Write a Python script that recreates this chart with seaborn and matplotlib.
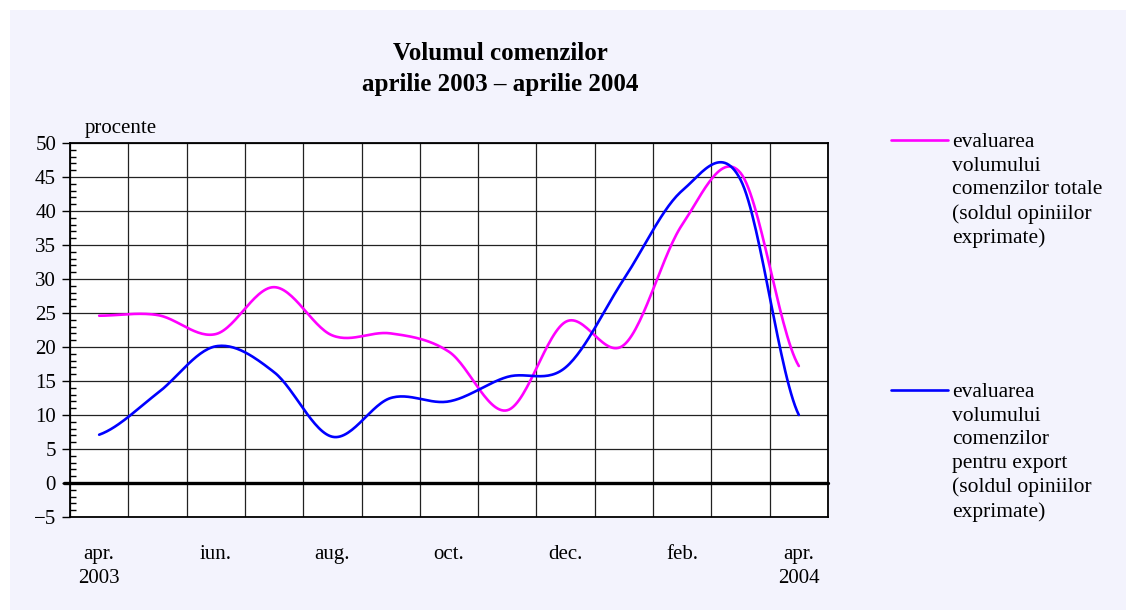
import numpy as np
import pandas as pd
import matplotlib
matplotlib.use("Agg")
import matplotlib.pyplot as plt
from matplotlib.lines import Line2D
from matplotlib.patches import Rectangle
from matplotlib.ticker import MultipleLocator
import seaborn as sns

# monthly data, apr. 2003 - apr. 2004 (sold, procente)
months = ["apr.\n2003", "mai", "iun.", "iul.", "aug.", "sep.", "oct.",
          "nov.", "dec.", "ian.", "feb.", "mar.", "apr.\n2004"]
totale = [24.6, 24.7, 21.9, 28.8, 21.7, 22.0, 19.3, 10.7, 23.7, 20.3, 38.0, 45.6, 17.2]
export = [7.1, 13.2, 20.1, 16.3, 6.8, 12.5, 12.0, 15.6, 17.0, 30.0, 43.0, 44.6, 10.0]

name_tot = "evaluarea\nvolumului\ncomenzilor totale\n(soldul opiniilor\nexprimate)"
name_exp = "evaluarea\nvolumului\ncomenzilor\npentru export\n(soldul opiniilor\nexprimate)"


# excel-like smoothed line (bezier through the points)
def smooth(vals, n=30):
    p = np.asarray(vals, dtype=float)
    xs, ys = [], []
    for i in range(len(p) - 1):
        p0 = p[i - 1] if i > 0 else p[i]
        p1, p2 = p[i], p[i + 1]
        p3 = p[i + 2] if i + 2 < len(p) else p[i + 1]
        c1 = p1 + (p2 - p0) / 6.0
        c2 = p2 - (p3 - p1) / 6.0
        t = np.linspace(0, 1, n, endpoint=False)
        ys.extend((1 - t) ** 3 * p1 + 3 * (1 - t) ** 2 * t * c1 + 3 * (1 - t) * t ** 2 * c2 + t ** 3 * p2)
        xs.extend(i + t)
    xs.append(len(p) - 1)
    ys.append(p[-1])
    return np.array(xs), np.array(ys)


frames = []
for vals, lab in [(totale, "totale"), (export, "export")]:
    sx, sy = smooth(vals)
    frames.append(pd.DataFrame({"x": sx, "y": sy, "serie": lab}))
df = pd.concat(frames, ignore_index=True)

sns.set_theme(style="white")
plt.rcParams["font.family"] = ["Liberation Serif", "DejaVu Serif"]
plt.rcParams["text.color"] = "black"
plt.rcParams["xtick.color"] = "black"
plt.rcParams["ytick.color"] = "black"

fig = plt.figure(figsize=(11.26, 6.10), dpi=100)
fig.patch.set_facecolor("white")
fig.add_artist(Rectangle((10 / 1126, 0), 1, 1 - 10 / 610, transform=fig.transFigure,
                         facecolor="#F3F3FD", edgecolor="none", zorder=-10))

ax = fig.add_axes([70 / 1126, 93 / 610, 758 / 1126, 374 / 610])
ax.set_facecolor("white")

ax.set_xlim(-0.5, 12.5)
ax.set_ylim(-5, 50)

# grid
for k in range(14):
    ax.axvline(k - 0.5, color="#222222", lw=0.9, zorder=1)
for v in range(-5, 51, 5):
    ax.axhline(v, color="#222222", lw=0.9, zorder=1)
ax.axhline(0, color="black", lw=2.4, zorder=2, xmin=-0.008, clip_on=False)

sns.lineplot(data=df, x="x", y="y", hue="serie", palette={"totale": "#FF00FF", "export": "#0000FF"},
             linewidth=1.9, legend=False, ax=ax, zorder=3, sort=False)

ax.set_xticks(range(0, 13, 2))
ax.set_xticklabels([months[i] for i in range(0, 13, 2)])
ax.tick_params(axis="x", length=0, pad=20, labelsize=15)
for t in ax.get_xticklabels():
    t.set_linespacing(1.35)

ax.yaxis.set_major_locator(MultipleLocator(5))
ax.yaxis.set_minor_locator(MultipleLocator(1))
ax.set_yticks(range(-5, 51, 5))
ax.set_yticklabels(["\u22125" if v < 0 else str(v) for v in range(-5, 51, 5)])
ax.tick_params(axis="y", which="major", direction="out", length=6, width=1, color="black",
               pad=4, labelsize=15, left=True)
ax.tick_params(axis="y", which="minor", direction="in", length=4, width=1, color="black", left=True)
ax.set_xlabel("")
ax.set_ylabel("")

for s in ax.spines.values():
    s.set_color("black")
    s.set_linewidth(1.3)
    s.set_visible(True)

fig.text(500 / 1126, 1 - 69 / 610, "Volumul comenzilor\naprilie 2003 \u2013 aprilie 2004",
         ha="center", va="center", fontsize=18, fontweight="bold", linespacing=1.5)
fig.text(85 / 1126, 1 - 129 / 610, "procente", ha="left", va="center", fontsize=15)

# legend drawn by hand, entries are far apart
for ly, col, txt in [(140, "#FF00FF", name_tot), (390, "#0000FF", name_exp)]:
    fig.add_artist(Line2D([891 / 1126, 948 / 1126], [1 - ly / 610] * 2, color=col, lw=1.9,
                          transform=fig.transFigure))
    fig.text(952 / 1126, 1 - (ly - 7) / 610, txt, ha="left", va="top", fontsize=15.5,
             linespacing=1.33)

fig.savefig("out.png", dpi=100, facecolor=fig.get_facecolor())
